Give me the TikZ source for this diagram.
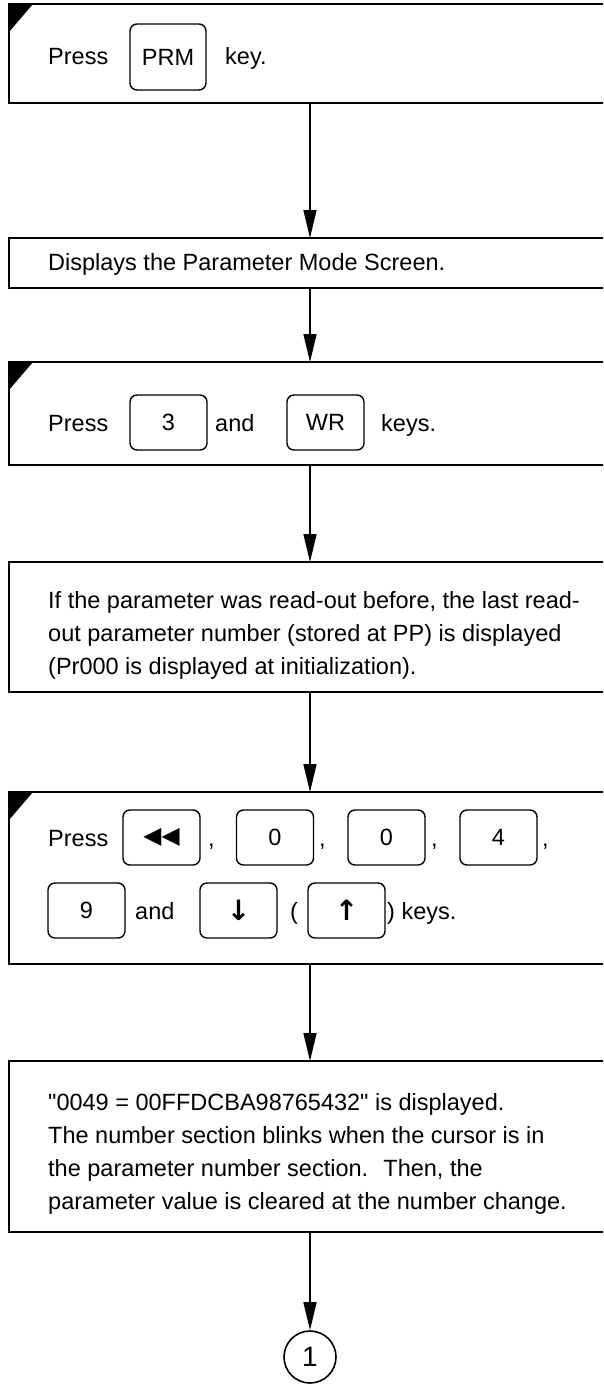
\documentclass[tikz,border=0pt]{standalone}
\usepackage{fontspec}
\setmainfont{Liberation Sans}[Ligatures=TeXOff]
\newfontfamily\symfont{DejaVu Sans}
\usetikzlibrary{arrows.meta,shapes,positioning,calc}

\begin{document}
\begin{tikzpicture}[x=1pt, y=-1pt,
    stepbox/.style={draw, line width=1.8pt, rectangle, minimum width=602pt, inner sep=0pt, outer sep=0pt},
    keybox/.style={draw, line width=1.4pt, rounded corners=7pt, minimum width=77pt, minimum height=55pt, inner sep=0pt, outer sep=0pt, font=\fontsize{23.5}{28}\selectfont},
    txt/.style={anchor=base west, inner sep=0pt, font=\fontsize{23.5}{28}\selectfont},
    flow/.style={line width=1.6pt, -{Triangle[length=28pt, width=13pt]}}]
    \clip (0,0) rectangle (603,1386);

    % step boxes (right edge runs off the page)
    \node[stepbox, minimum height=99pt] (b1) at (310,53.5) {};
    \node[stepbox, minimum height=50pt] (b2) at (310,263) {};
    \node[stepbox, minimum height=103pt] (b3) at (310,413.5) {};
    \node[stepbox, minimum height=130pt] (b4) at (310,627) {};
    \node[stepbox, minimum height=172pt] (b5) at (310,878) {};
    \node[stepbox, minimum height=171pt] (b6) at (310,1146.5) {};
    \node[draw, circle, line width=1.6pt, minimum size=52pt, inner sep=0pt, font=\fontsize{28}{30}\selectfont] (c1) at (310,1357) {1};

    % operation marks
    \fill (b1.north west) -- ++(24,0) -- ++(-24,28) -- cycle;
    \fill (b3.north west) -- ++(24,0) -- ++(-24,28) -- cycle;
    \fill (b5.north west) -- ++(24,0) -- ++(-24,28) -- cycle;

    % step 1
    \node[txt] (p1) at (48,65) {Press};
    \node[keybox, minimum width=76pt, minimum height=66pt] (kprm) at (168,57) {PRM};
    \node[txt] (e1) at (225,65) {key.};

    % step 2
    \node[txt] (t2) at (48,270) {Displays the Parameter Mode Screen.};

    % step 3
    \node[txt] (p3) at (48,431) {Press};
    \node[keybox] (k3) at (168.5,422.5) {3};
    \node[txt] (a3) at (215,431) {and};
    \node[keybox] (kwr) at (325.5,422.5) {WR};
    \node[txt] (e3) at (381,431) {keys.};

    % step 4
    \node[txt] (l41) at (48,608) {If the parameter was read-out before, the last read-};
    \node[txt] (l42) at (48,641) {out parameter number (stored at PP) is displayed};
    \node[txt] (l43) at (48,674) {(Pr000 is displayed at initialization).};

    % step 5
    \node[txt] (p5) at (48,846) {Press};
    \node[keybox] (krw) at (161.5,837.5) {\symfont ◀◀};
    \node[txt] (c51) at (208,846) {,};
    \node[keybox] (k0a) at (275,837.5) {0};
    \node[txt] (c52) at (319,846) {,};
    \node[keybox] (k0b) at (386.5,837.5) {0};
    \node[txt] (c53) at (431,846) {,};
    \node[keybox] (k4) at (498.5,837.5) {4};
    \node[txt] (c54) at (542,846) {,};
    \node[keybox] (k9) at (86.5,910.5) {9};
    \node[txt] (a5) at (135,919) {and};
    \node[keybox] (kdn) at (238.5,910.5) {\symfont\bfseries\fontsize{28}{30}\selectfont ↓};
    \node[txt] (o5) at (290,919) {(};
    \node[keybox] (kup) at (346.5,910.5) {\symfont\bfseries\fontsize{28}{30}\selectfont ↑};
    \node[txt] (e5) at (387,919) {) keys.};

    % step 6
    \node[txt] (l61) at (48,1110) {"0049 = 00FFDCBA98765432" is displayed.};
    \node[txt] (l62) at (48,1143) {The number section blinks when the cursor is in};
    \node[txt] (l63) at (48,1176) {the parameter number section.~ Then, the};
    \node[txt] (l64) at (48,1209) {parameter value is cleared at the number change.};

    % flow
    \draw[flow] (b1) -- (b2);
    \draw[flow] (b2) -- (b3);
    \draw[flow] (b3) -- (b4);
    \draw[flow] (b4) -- (b5);
    \draw[flow] (b5) -- (b6);
    \draw[flow] (b6) -- (c1);
\end{tikzpicture}
\end{document}
